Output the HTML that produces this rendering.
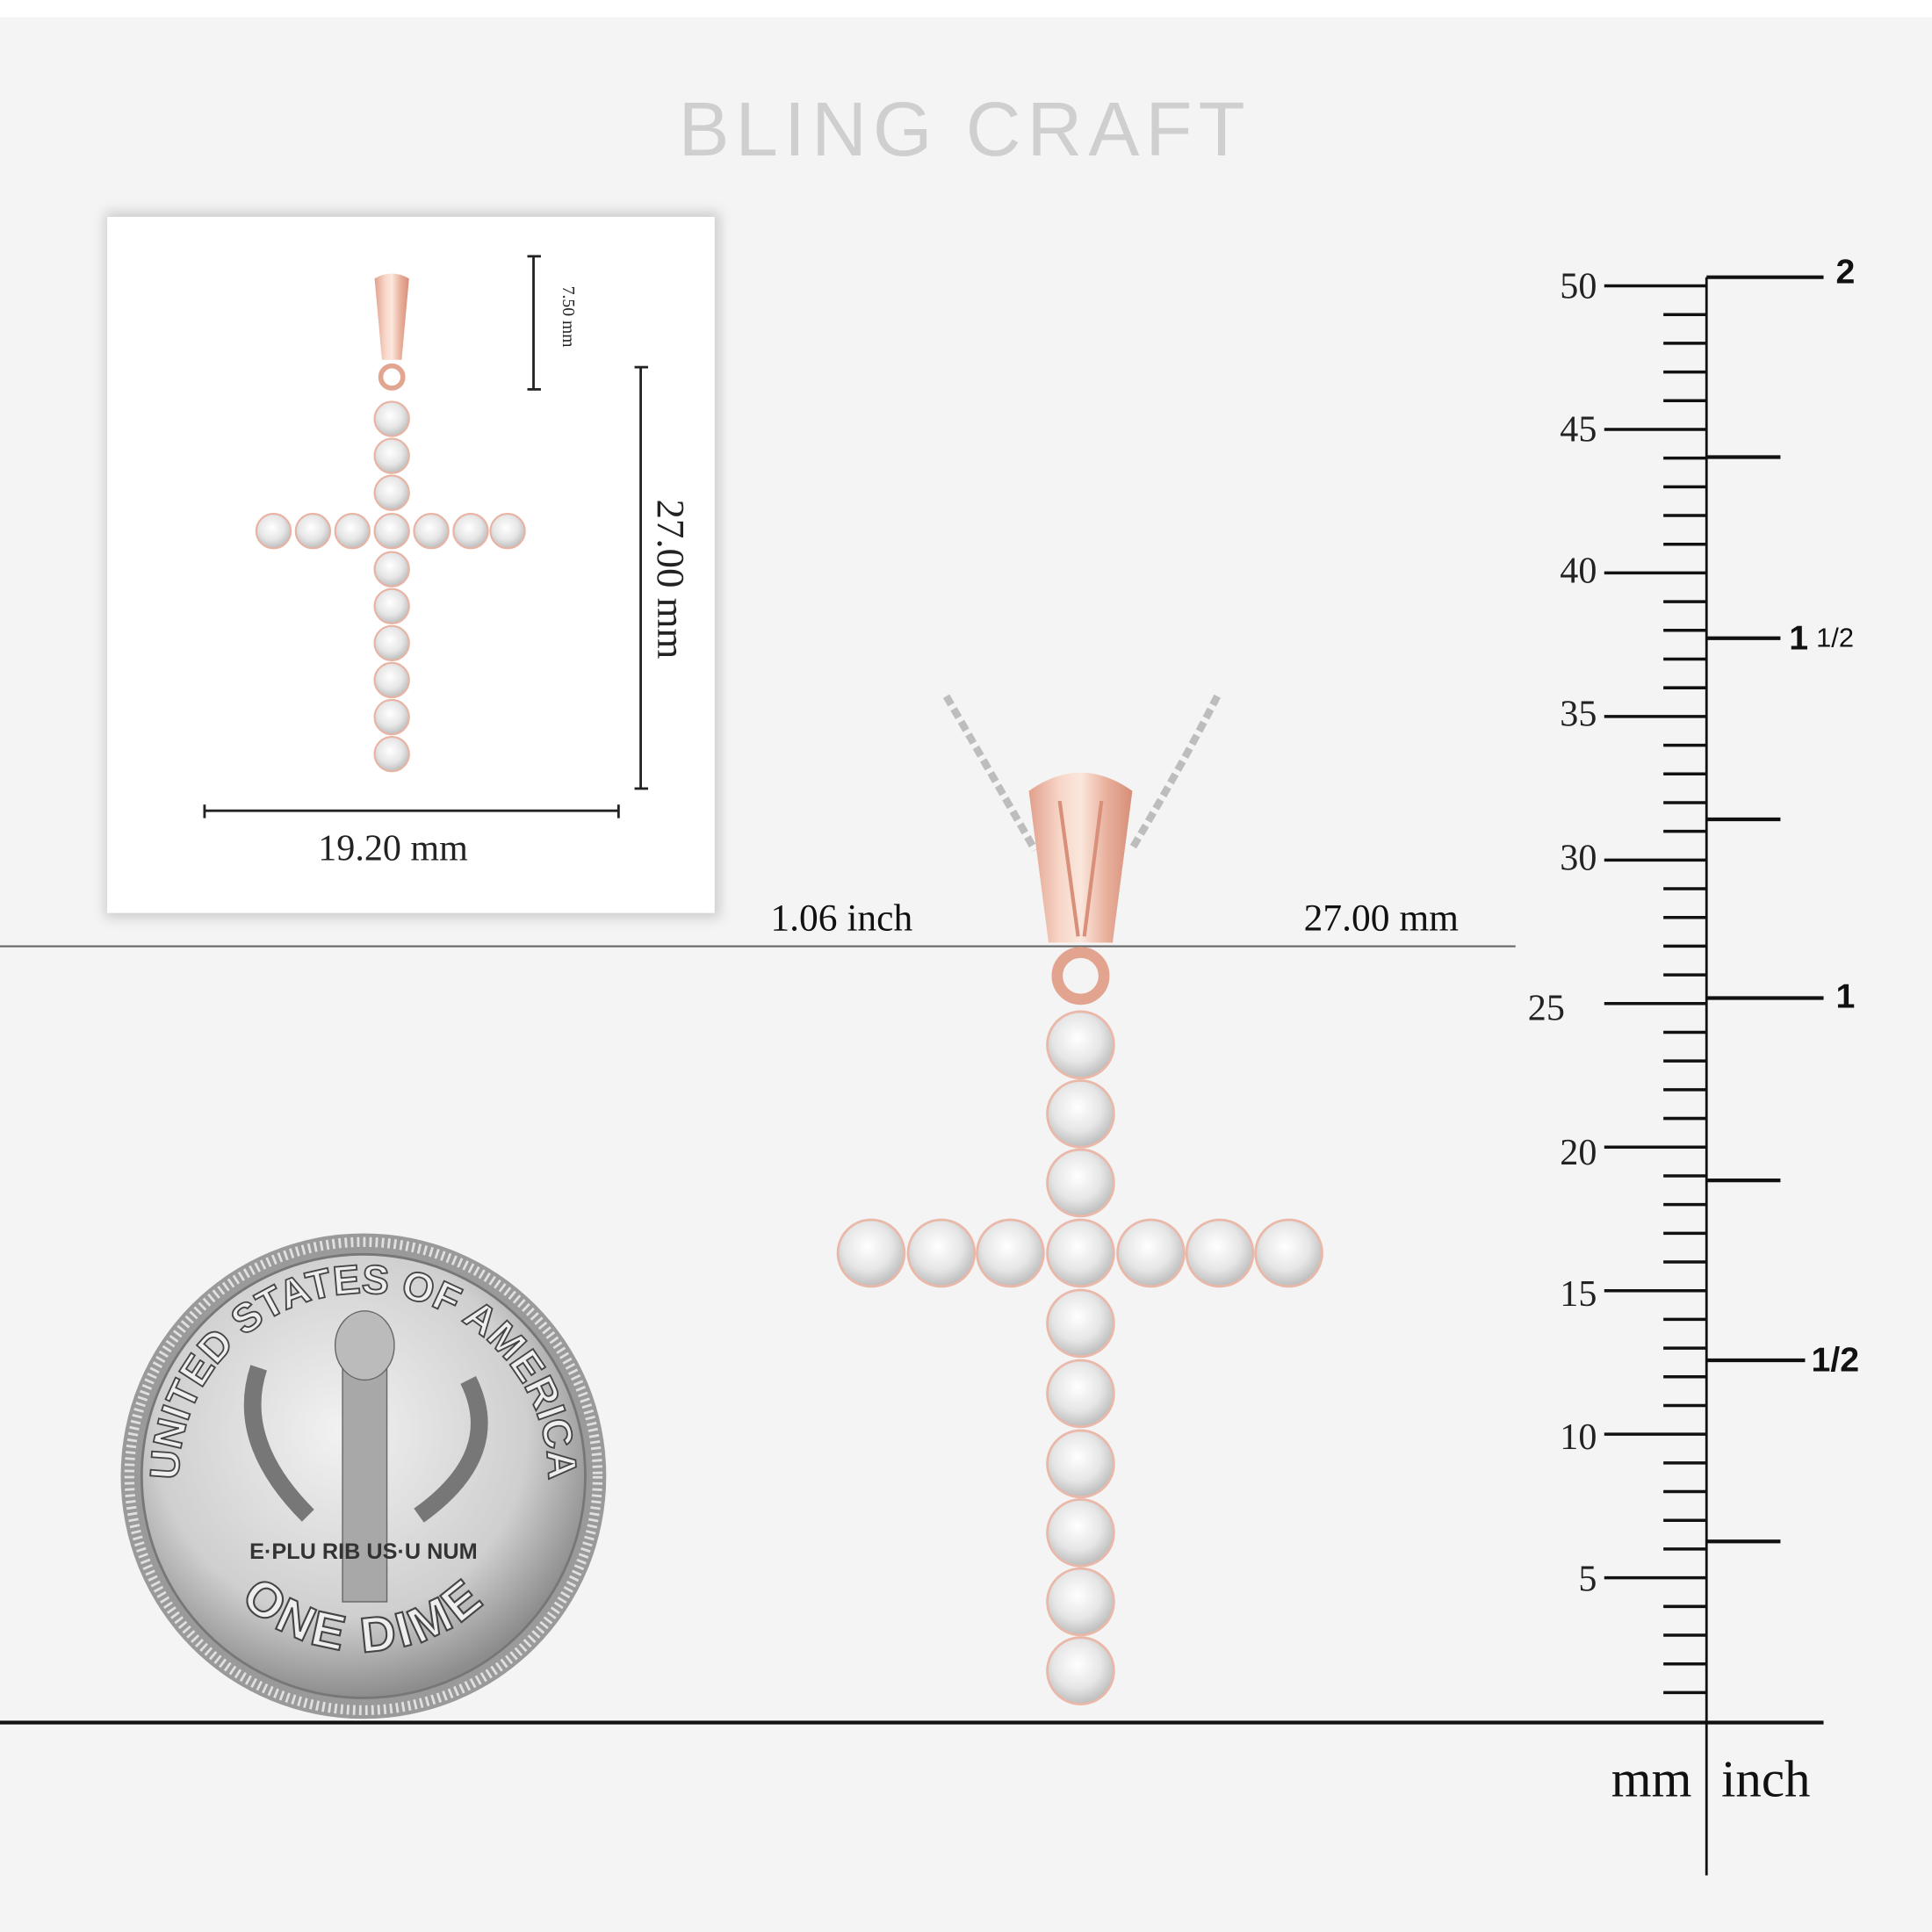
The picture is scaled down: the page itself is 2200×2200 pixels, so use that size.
<!DOCTYPE html>
<html><head><meta charset="utf-8"><style>
html,body{margin:0;padding:0;background:#f4f4f4;}
svg{display:block}
</style></head><body>
<svg width="2200" height="2200" viewBox="0 0 1568 1568" xmlns="http://www.w3.org/2000/svg">
<defs>
<radialGradient id="st" cx="45%" cy="40%" r="60%"><stop offset="0" stop-color="#ffffff"/><stop offset="0.6" stop-color="#e6e6e6"/><stop offset="1" stop-color="#bdbdbd"/></radialGradient>
<linearGradient id="rg" x1="0" x2="1"><stop offset="0" stop-color="#e2a08c"/><stop offset="0.3" stop-color="#f7d6c8"/><stop offset="0.5" stop-color="#fbe7dd"/><stop offset="0.75" stop-color="#e8b09c"/><stop offset="1" stop-color="#d78e78"/></linearGradient>
<radialGradient id="coin" cx="45%" cy="40%" r="60%"><stop offset="0" stop-color="#f2f2f2"/><stop offset="0.7" stop-color="#cfcfcf"/><stop offset="1" stop-color="#8d8d8d"/></radialGradient>
<filter id="sh" x="-10%" y="-10%" width="120%" height="120%"><feGaussianBlur stdDeviation="5"/></filter>
<path id="topArc" d="M150,1238 A150,150 0 1 1 440,1238"/>
<path id="botArc" d="M155,1222 A142,142 0 0 0 435,1222"/>
</defs>
<rect width="1568" height="1568" fill="#f4f4f4"/>
<rect width="1568" height="14" fill="#fff"/>
<text x="783" y="126" font-family="Liberation Sans, sans-serif" font-size="62" fill="#cfcfcf" text-anchor="middle" letter-spacing="5">BLING CRAFT</text>

<!-- inset panel -->
<rect x="85" y="172" width="499" height="573" fill="#ccc" filter="url(#sh)"/>
<rect x="87" y="176" width="493" height="565" fill="#fff"/>
<g>
<path d="M304,226 Q318,218 332,226 L326,292 L310,292 Z" fill="url(#rg)"/>
<circle cx="318" cy="306" r="9" fill="none" stroke="#e2a590" stroke-width="4"/>
<g fill="url(#st)" stroke="#e8b3a3" stroke-width="1.5">
<circle cx="318" cy="340" r="14"/><circle cx="318" cy="370" r="14"/><circle cx="318" cy="400" r="14"/><circle cx="318" cy="431" r="14"/>
<circle cx="318" cy="462" r="14"/><circle cx="318" cy="492" r="14"/><circle cx="318" cy="522" r="14"/><circle cx="318" cy="552" r="14"/><circle cx="318" cy="582" r="14"/><circle cx="318" cy="612" r="14"/>
<circle cx="222" cy="431" r="14"/><circle cx="254" cy="431" r="14"/><circle cx="286" cy="431" r="14"/><circle cx="350" cy="431" r="14"/><circle cx="382" cy="431" r="14"/><circle cx="412" cy="431" r="14"/>
</g></g>
<g stroke="#222" stroke-width="2">
<line x1="433" y1="208" x2="433" y2="316"/><line x1="428" y1="208" x2="439" y2="208"/><line x1="428" y1="316" x2="439" y2="316"/>
<line x1="520" y1="298" x2="520" y2="640"/><line x1="515" y1="298" x2="526" y2="298"/><line x1="515" y1="640" x2="526" y2="640"/>
<line x1="166" y1="658" x2="502" y2="658"/><line x1="166" y1="653" x2="166" y2="664"/><line x1="502" y1="653" x2="502" y2="664"/>
</g>
<text transform="translate(457,257) rotate(90)" font-family="Liberation Serif, serif" font-size="14" text-anchor="middle" fill="#222">7.50 mm</text>
<text transform="translate(534,470) rotate(90)" font-family="Liberation Serif, serif" font-size="32" text-anchor="middle" fill="#222">27.00 mm</text>
<text x="319" y="698" font-family="Liberation Serif, serif" font-size="30" text-anchor="middle" fill="#222">19.20 mm</text>

<line x1="0" y1="768" x2="1230" y2="768" stroke="#666" stroke-width="1.5"/>
<line x1="0" y1="1398" x2="1480" y2="1398" stroke="#111" stroke-width="3"/>
<text x="683" y="755" font-family="Liberation Serif, serif" font-size="31" text-anchor="middle" fill="#111">1.06 inch</text>
<text x="1121" y="755" font-family="Liberation Serif, serif" font-size="31" text-anchor="middle" fill="#111">27.00 mm</text>

<g fill="none" stroke="#bdbdbd" stroke-width="6" stroke-dasharray="8 4">
<path d="M768,565 Q800,620 840,690"/><path d="M988,565 Q960,620 918,690"/>
</g>
<path d="M835,642 Q877,612 919,642 L903,765 L851,765 Z" fill="url(#rg)"/>
<path d="M860,650 L875,760 M894,650 L880,760" stroke="#d9907a" stroke-width="3" fill="none"/>
<circle cx="877" cy="792" r="19" fill="none" stroke="#e3a48f" stroke-width="9"/>
<g fill="url(#st)" stroke="#eab8a8" stroke-width="2">
<circle cx="877" cy="848" r="27"/><circle cx="877" cy="904" r="27"/><circle cx="877" cy="960" r="27"/><circle cx="877" cy="1017" r="27"/>
<circle cx="877" cy="1074" r="27"/><circle cx="877" cy="1131" r="27"/><circle cx="877" cy="1188" r="27"/><circle cx="877" cy="1244" r="27"/><circle cx="877" cy="1300" r="27"/><circle cx="877" cy="1356" r="27"/>
<circle cx="707" cy="1017" r="27"/><circle cx="764" cy="1017" r="27"/><circle cx="820" cy="1017" r="27"/><circle cx="934" cy="1017" r="27"/><circle cx="990" cy="1017" r="27"/><circle cx="1046" cy="1017" r="27"/>
</g>

<!-- dime -->
<circle cx="295" cy="1198" r="197" fill="#9a9a9a"/>
<circle cx="295" cy="1198" r="190" fill="none" stroke="#e0e0e0" stroke-width="8" stroke-dasharray="2 3"/>
<circle cx="295" cy="1198" r="180" fill="url(#coin)" stroke="#777" stroke-width="2"/>
<rect x="278" y="1100" width="36" height="200" fill="#a8a8a8" stroke="#666"/>
<ellipse cx="296" cy="1092" rx="24" ry="28" fill="#bbb" stroke="#666"/>
<path d="M210,1110 Q190,1170 250,1230 M380,1120 Q410,1180 340,1230" stroke="#777" stroke-width="14" fill="none"/>
<text font-family="Liberation Sans, sans-serif" font-size="33" font-weight="bold" fill="#eee" stroke="#444" stroke-width="1.3"><textPath href="#topArc" startOffset="50%" text-anchor="middle">UNITED STATES OF AMERICA</textPath></text>
<text font-family="Liberation Sans, sans-serif" font-size="40" font-weight="bold" fill="#eee" stroke="#444" stroke-width="1.5" letter-spacing="3"><textPath href="#botArc" startOffset="50%" text-anchor="middle">ONE DIME</textPath></text>
<text x="295" y="1265" font-family="Liberation Sans, sans-serif" font-size="18" font-weight="bold" fill="#333" text-anchor="middle">E·PLU RIB  US·U NUM</text>

<!-- ruler -->
<line x1="1385" y1="225" x2="1385" y2="1522" stroke="#111" stroke-width="2"/>
<g font-family="Liberation Serif, serif" font-size="30" fill="#222" text-anchor="end">
<text x="1296" y="242">50</text><text x="1296" y="358">45</text><text x="1296" y="473">40</text><text x="1296" y="589">35</text><text x="1296" y="706">30</text><text x="1270" y="828">25</text><text x="1296" y="945">20</text><text x="1296" y="1060">15</text><text x="1296" y="1176">10</text><text x="1296" y="1291">5</text>
</g>
<g stroke="#111" stroke-width="3">
<line x1="1385" y1="225" x2="1480" y2="225"/><line x1="1385" y1="518" x2="1445" y2="518"/><line x1="1385" y1="810" x2="1480" y2="810"/><line x1="1385" y1="1104" x2="1465" y2="1104"/>
<line x1="1385" y1="371" x2="1445" y2="371"/><line x1="1385" y1="665" x2="1445" y2="665"/><line x1="1385" y1="958" x2="1445" y2="958"/><line x1="1385" y1="1251" x2="1445" y2="1251"/>
</g>
<g font-family="Liberation Sans, sans-serif" font-weight="bold" font-size="28" fill="#111">
<text x="1490" y="230">2</text><text x="1452" y="527">1</text><text x="1474" y="525" font-size="22" font-weight="normal">1/2</text><text x="1490" y="818">1</text><text x="1470" y="1113">1/2</text>
</g>
<text x="1373" y="1458" font-family="Liberation Serif, serif" font-size="42" fill="#111" text-anchor="end">mm</text>
<text x="1397" y="1458" font-family="Liberation Serif, serif" font-size="42" fill="#111">inch</text>
<g stroke="#111" stroke-width="2.5">
<path d="M1350,255.3H1385M1350,278.6H1385M1350,301.9H1385M1350,325.2H1385M1302,348.5H1385M1350,371.8H1385M1350,395.1H1385M1350,418.4H1385M1350,441.7H1385M1302,465H1385M1350,488.3H1385M1350,511.6H1385M1350,534.9H1385M1350,558.2H1385M1302,581.5H1385M1350,604.8H1385M1350,628.1H1385M1350,651.4H1385M1350,674.7H1385M1302,698H1385M1350,721.3H1385M1350,744.6H1385M1350,767.9H1385M1350,791.2H1385M1302,814.5H1385M1350,837.8H1385M1350,861.1H1385M1350,884.4H1385M1350,907.7H1385M1302,931H1385M1350,954.3H1385M1350,977.6H1385M1350,1000.9H1385M1350,1024.2H1385M1302,1047.5H1385M1350,1070.8H1385M1350,1094.1H1385M1350,1117.4H1385M1350,1140.7H1385M1302,1164H1385M1350,1187.3H1385M1350,1210.6H1385M1350,1233.9H1385M1350,1257.2H1385M1302,1280.5H1385M1350,1303.8H1385M1350,1327.1H1385M1350,1350.4H1385M1350,1373.7H1385M1302,232H1385"/>
</g>
</svg>
</body></html>
